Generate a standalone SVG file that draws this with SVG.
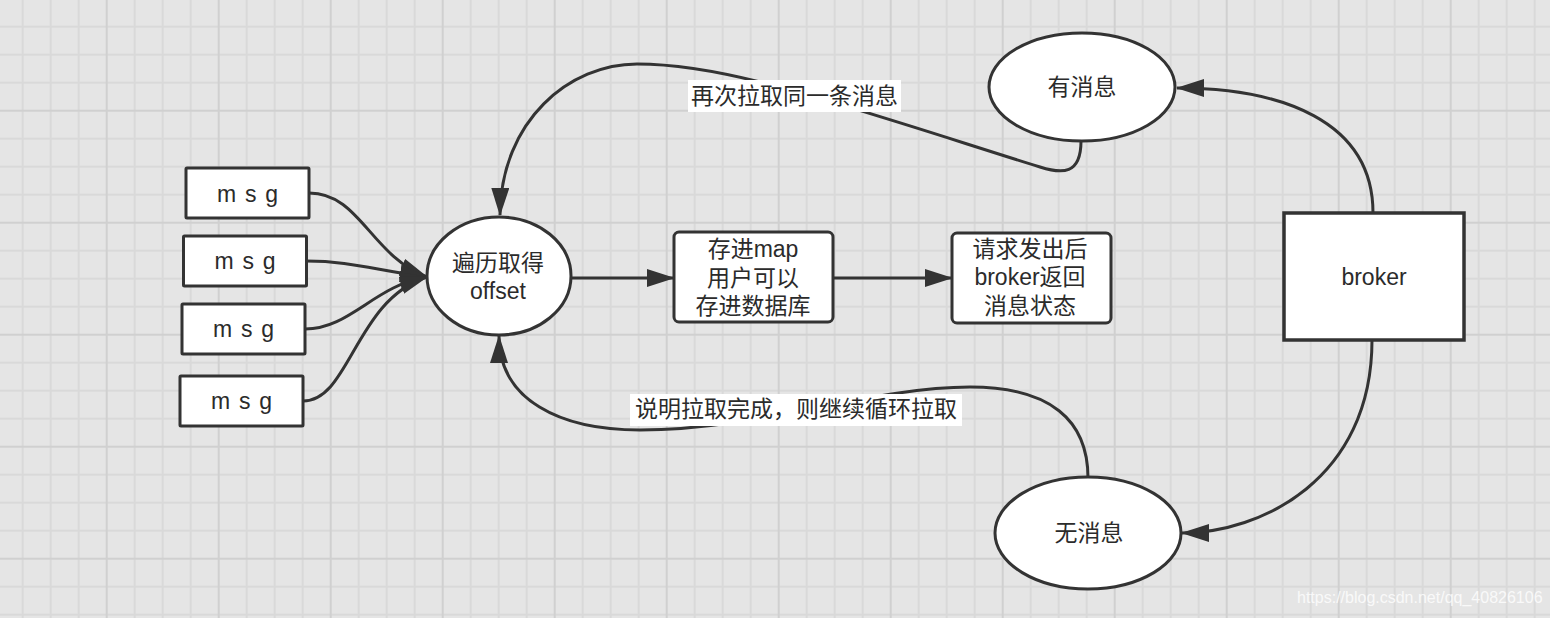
<svg xmlns="http://www.w3.org/2000/svg" width="1550" height="618" viewBox="0 0 1550 618">
<defs>
<style>
.t{font-family:"Liberation Sans","Noto Sans CJK SC",Arial,sans-serif;font-size:23px;fill:#2b2b2b;text-anchor:middle}
.m{word-spacing:2.5px}
.box{fill:#fff;stroke:#333;stroke-width:3}
.ell{fill:#fff;stroke:#333;stroke-width:3}
.lbl{fill:#fff}
.c{fill:none;stroke:#333;stroke-width:3;marker-end:url(#arr)}
.wm{font-family:"Liberation Sans",Arial,sans-serif;font-size:16px;fill:#fff;fill-opacity:0.8}
</style>
<marker id="arr" markerUnits="userSpaceOnUse" markerWidth="28" markerHeight="18" refX="27" refY="9" orient="auto" viewBox="0 0 28 18">
<path d="M0,0 L28,9 L0,18 Z" fill="#333"/>
</marker>
<pattern id="grid" patternUnits="userSpaceOnUse" x="-6.3" y="-2.3" width="112" height="112">
<rect width="112" height="112" fill="#e5e5e5"/>
<rect x="28" y="0" width="2" height="112" fill="#d9d9d9"/>
<rect x="56" y="0" width="2" height="112" fill="#d9d9d9"/>
<rect x="84" y="0" width="2" height="112" fill="#d9d9d9"/>
<rect x="0" y="28" width="112" height="2" fill="#d9d9d9"/>
<rect x="0" y="56" width="112" height="2" fill="#d9d9d9"/>
<rect x="0" y="84" width="112" height="2" fill="#d9d9d9"/>
<rect x="0" y="0" width="2" height="112" fill="#d0d0d0"/>
<rect x="0" y="0" width="112" height="2" fill="#d0d0d0"/>
</pattern>
</defs>
<rect width="1550" height="618" fill="url(#grid)"/>

<g id="connectors">
<path class="c" d="M309,193 C360,193 370,255 427,277"/>
<path class="c" d="M306.5,261 C350,261 375,270 427,277"/>
<path class="c" d="M305,329 C350,329 375,285 427,277"/>
<path class="c" d="M303,401 C350,401 355,300 427,277"/>
<path class="c" d="M572,278 L674,278"/>
<path class="c" d="M833,278 L952,278"/>
<path class="c" d="M1373,213 C1373,120 1280,88 1177,88"/>
<path class="c" d="M1372,340 C1372,480 1260,533 1182,533"/>
<path class="c" d="M1081,141 C1081,175 1062,174 1040,167 C950,139 840,102 760,82 C720,72 680,64 637,64 C570,64 501,120 500,215"/>
<path class="c" d="M1088,478 C1088,420 1050,387 970,387 C870,387 760,430 640,430 C560,430 499,400 499,336"/>
</g>

<g id="label-top">
<rect class="lbl" x="688" y="80" width="213" height="32"/>
<text class="t" x="794.5" y="104">再次拉取同一条消息</text>
</g>
<g id="label-bottom">
<rect class="lbl" x="630" y="394" width="332" height="32"/>
<text class="t" x="796" y="417">说明拉取完成，则继续循环拉取</text>
</g>

<g id="msg1">
<rect class="box" x="186" y="168" width="123" height="50" rx="1"/>
<text class="t m" x="247.5" y="201.5">m s g</text>
</g>
<g id="msg2">
<rect class="box" x="183.5" y="236" width="123" height="50" rx="1"/>
<text class="t m" x="245" y="269">m s g</text>
</g>
<g id="msg3">
<rect class="box" x="182" y="304" width="123" height="50" rx="1"/>
<text class="t m" x="243.5" y="337">m s g</text>
</g>
<g id="msg4">
<rect class="box" x="180" y="376" width="123" height="50" rx="1"/>
<text class="t m" x="241.5" y="409">m s g</text>
</g>

<g id="traverse">
<ellipse class="ell" cx="499" cy="276" rx="72" ry="59"/>
<text class="t" x="498" y="271">遍历取得</text>
<text class="t" x="498" y="299">offset</text>
</g>

<g id="store">
<rect class="box" x="674" y="232" width="159" height="90" rx="5"/>
<text class="t" x="753" y="257">存进map</text>
<text class="t" x="753" y="285.5">用户可以</text>
<text class="t" x="753" y="313.5">存进数据库</text>
</g>

<g id="request">
<rect class="box" x="952" y="233" width="159" height="90" rx="5"/>
<text class="t" x="1030" y="256.5">请求发出后</text>
<text class="t" x="1030" y="285">broker返回</text>
<text class="t" x="1030" y="314">消息状态</text>
</g>

<g id="has-msg">
<ellipse class="ell" cx="1082" cy="87" rx="93" ry="54"/>
<text class="t" x="1082" y="95">有消息</text>
</g>

<g id="no-msg">
<ellipse class="ell" cx="1088" cy="533" rx="93" ry="56"/>
<text class="t" x="1089" y="541">无消息</text>
</g>

<g id="broker">
<rect x="1284" y="213" width="180" height="127" fill="#fff" stroke="#333" stroke-width="3.5"/>
<text class="t" x="1374" y="285">broker</text>
</g>

<text class="wm" x="1297" y="603">https://blog.csdn.net/qq_40826106</text>
</svg>
